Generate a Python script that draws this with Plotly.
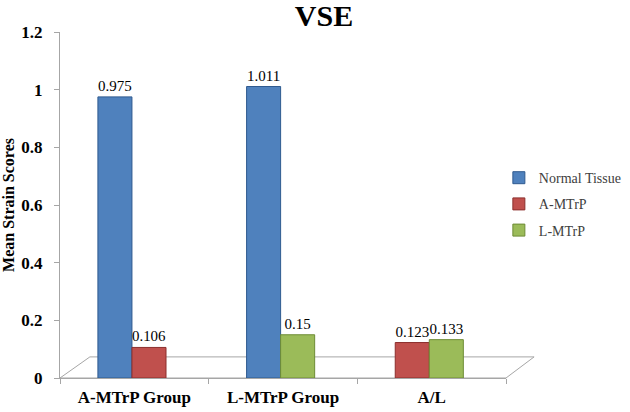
import plotly.graph_objects as go

categories = ["A-MTrP Group", "L-MTrP Group", "A/L"]
normal_tissue = [0.975, 1.011, None]
a_mtrp = [0.106, None, 0.123]
l_mtrp = [None, 0.15, 0.133]
y_ticks = [0, 0.2, 0.4, 0.6, 0.8, 1, 1.2]
y_tick_labels = ["0", "0.2", "0.4", "0.6", "0.8", "1", "1.2"]

W = 0.229
L = -0.245
R = L + W

serif = "Liberation Serif"

def lbl(vals):
    return [("" if v is None else f"{v:g}") for v in vals]

fig = go.Figure()
series = [
    ("Normal Tissue", normal_tissue, "#4F81BD", "#2F5A8F", [L, L, L]),
    ("A-MTrP", a_mtrp, "#C0504D", "#8C2F2D", [R, L, L]),
    ("L-MTrP", l_mtrp, "#9BBB59", "#6E8C35", [R, R, R]),
]
for name, vals, col, edge, offs in series:
    fig.add_trace(go.Bar(
        x=categories, y=vals, name=name, width=W, offset=offs,
        marker=dict(color=col, line=dict(color=edge, width=1)),
        text=lbl(vals), textposition="outside", cliponaxis=False,
        textfont=dict(family=serif, size=15, color="black"),
        legendgroup=name,
    ))

# 3D-like floor
fig.add_shape(type="path", xref="paper", yref="paper",
              path="M 0,0 L 0.067,0.061 L 1.063,0.061 L 1,0 Z",
              line=dict(color="#A6A6A6", width=1), fillcolor="rgba(0,0,0,0)", layer="below")

fig.update_layout(
    width=630, height=412,
    margin=dict(l=60, r=124, t=32, b=34, autoexpand=False),
    paper_bgcolor="white", plot_bgcolor="white",
    barmode="overlay",
    title=dict(text="<b>VSE</b>", x=324 / 630, xanchor="center", y=1 - 15 / 412, yanchor="middle",
               font=dict(family=serif, size=30, color="black")),
    showlegend=True,
    legend=dict(x=0.984, xanchor="left", y=0.624, yanchor="top",
                font=dict(family=serif, size=14, color="#404040"),
                itemwidth=30, tracegroupgap=5, bgcolor="rgba(0,0,0,0)"),
    xaxis=dict(range=[-0.5, 2.5], showline=True, linecolor="#A6A6A6",
               ticks="outside", tickson="boundaries", tickcolor="#A6A6A6", ticklen=5,
               ticklabelstandoff=4, automargin=False,
               tickfont=dict(family=serif, size=17, color="black"),
               showgrid=False, zeroline=False),
    yaxis=dict(range=[0, 1.2], tickvals=y_ticks, ticktext=[f"<b>{t}</b>" for t in y_tick_labels],
               showline=True, linecolor="#A6A6A6", ticks="outside", tickcolor="#A6A6A6", ticklen=5,
               ticklabelstandoff=8, automargin=False,
               tickfont=dict(family=serif, size=17, color="black"),
               showgrid=False, zeroline=False,
               title=dict(text="<b>Mean Strain Scores</b>", font=dict(family=serif, size=16, color="black"),
                          standoff=5)),
)
fig.update_xaxes(ticktext=[f"<b>{c}</b>" for c in categories], tickvals=categories)

fig.write_html("out.html", post_script="document.body.style.margin='0';",
               config={"displayModeBar": False})
